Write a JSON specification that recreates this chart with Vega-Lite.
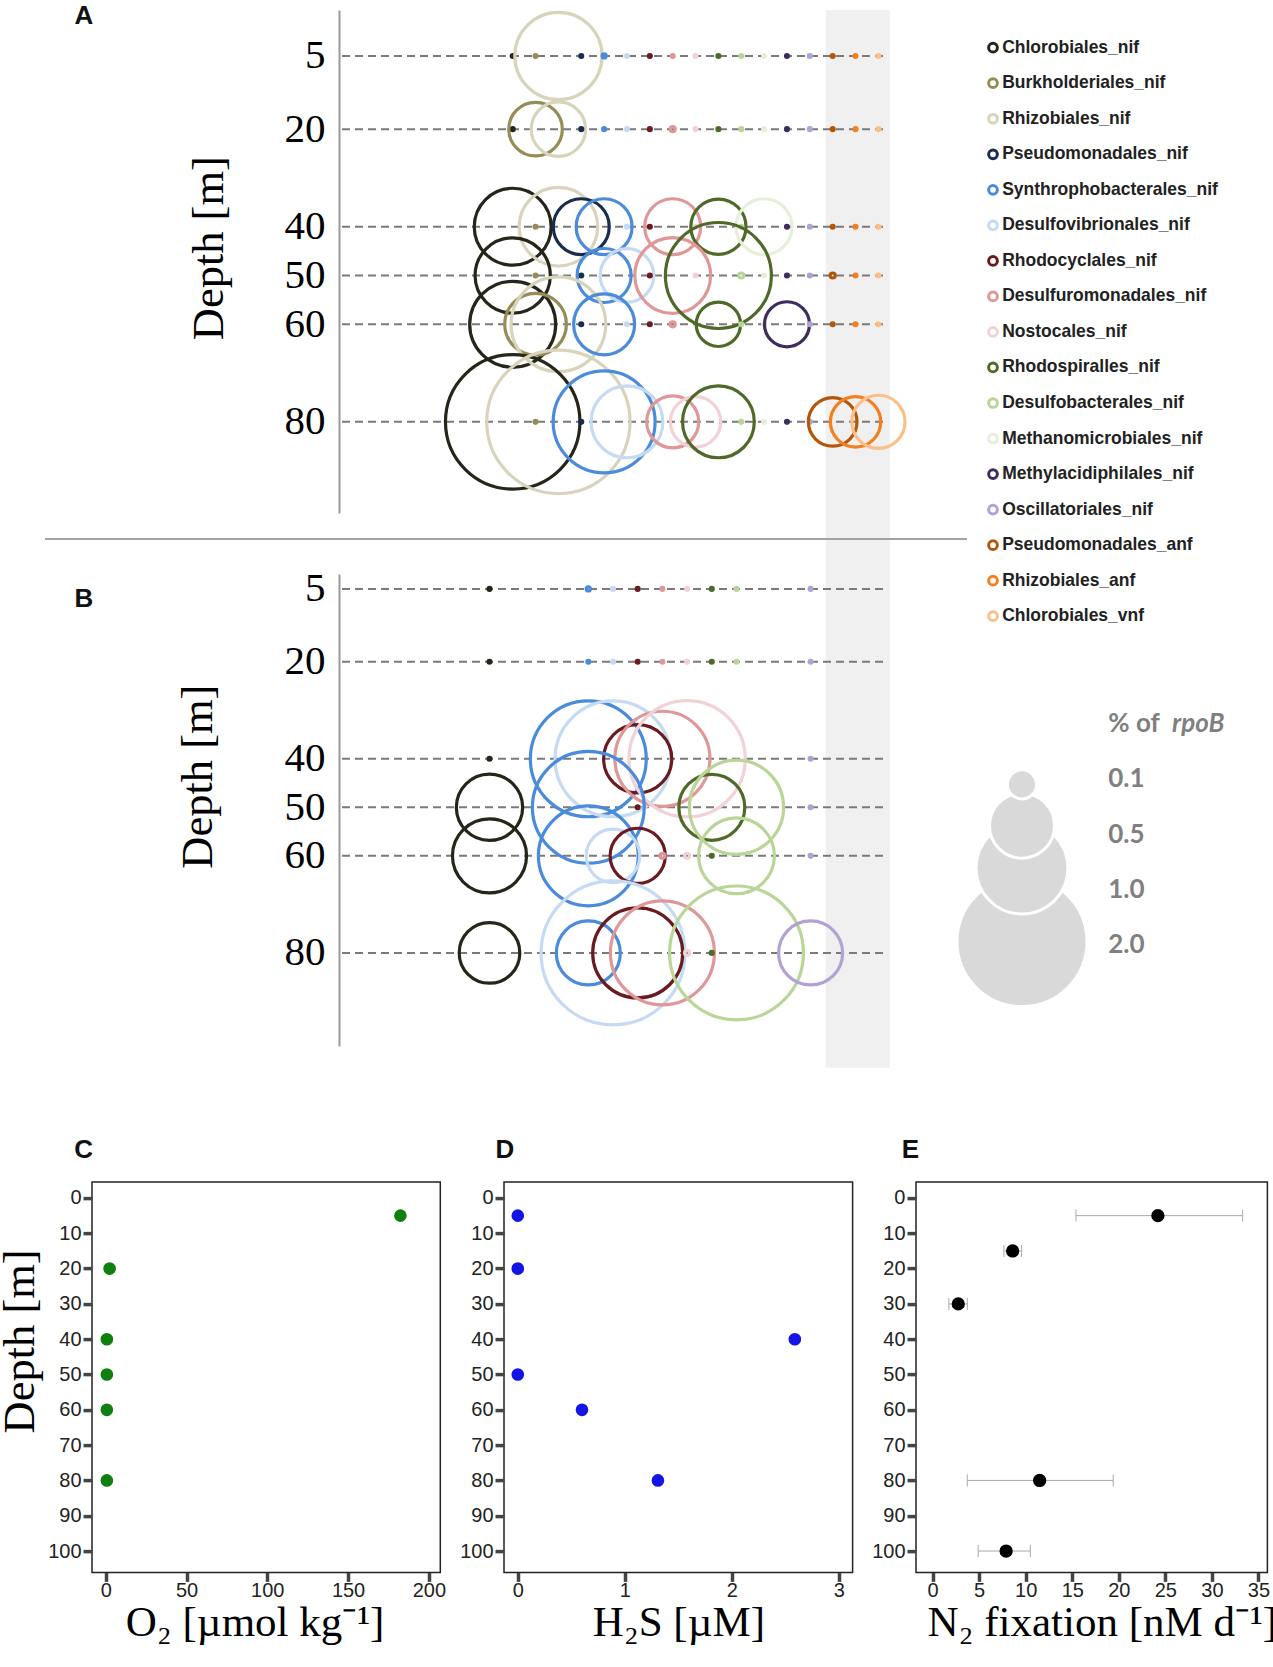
{
"$schema": "https://vega.github.io/schema/vega-lite/v6.json",
"background": "white",
"padding": {"left": -4, "top": 2.1, "right": 0, "bottom": 0},
"config": {"view": {"stroke": null}, "axis": {"grid": false}},
"datasets": {
"A": [
{"d":5,"t":"Chlorobiales_nif","p":0.001},{"d":5,"t":"Burkholderiales_nif","p":0.001},{"d":5,"t":"Rhizobiales_nif","p":0.9},{"d":5,"t":"Pseudomonadales_nif","p":0.001},{"d":5,"t":"Synthrophobacterales_nif","p":0.002},{"d":5,"t":"Desulfovibrionales_nif","p":0.001},{"d":5,"t":"Rhodocyclales_nif","p":0.001},{"d":5,"t":"Desulfuromonadales_nif","p":0.001},{"d":5,"t":"Nostocales_nif","p":0.001},{"d":5,"t":"Rhodospiralles_nif","p":0.001},{"d":5,"t":"Desulfobacterales_nif","p":0.001},{"d":5,"t":"Methanomicrobiales_nif","p":0.001},{"d":5,"t":"Methylacidiphilales_nif","p":0.001},{"d":5,"t":"Oscillatoriales_nif","p":0.001},{"d":5,"t":"Pseudomonadales_anf","p":0.001},{"d":5,"t":"Rhizobiales_anf","p":0.001},{"d":5,"t":"Chlorobiales_vnf","p":0.001},
{"d":20,"t":"Chlorobiales_nif","p":0.001},{"d":20,"t":"Burkholderiales_nif","p":0.34},{"d":20,"t":"Rhizobiales_nif","p":0.35},{"d":20,"t":"Pseudomonadales_nif","p":0.001},{"d":20,"t":"Synthrophobacterales_nif","p":0.001},{"d":20,"t":"Desulfovibrionales_nif","p":0.001},{"d":20,"t":"Rhodocyclales_nif","p":0.001},{"d":20,"t":"Desulfuromonadales_nif","p":0.003},{"d":20,"t":"Nostocales_nif","p":0.001},{"d":20,"t":"Rhodospiralles_nif","p":0.001},{"d":20,"t":"Desulfobacterales_nif","p":0.001},{"d":20,"t":"Methanomicrobiales_nif","p":0.001},{"d":20,"t":"Methylacidiphilales_nif","p":0.001},{"d":20,"t":"Oscillatoriales_nif","p":0.001},{"d":20,"t":"Pseudomonadales_anf","p":0.001},{"d":20,"t":"Rhizobiales_anf","p":0.001},{"d":20,"t":"Chlorobiales_vnf","p":0.001},
{"d":40,"t":"Chlorobiales_nif","p":0.7},{"d":40,"t":"Burkholderiales_nif","p":0.001},{"d":40,"t":"Rhizobiales_nif","p":0.73},{"d":40,"t":"Pseudomonadales_nif","p":0.37},{"d":40,"t":"Synthrophobacterales_nif","p":0.37},{"d":40,"t":"Desulfovibrionales_nif","p":0.001},{"d":40,"t":"Rhodocyclales_nif","p":0.001},{"d":40,"t":"Desulfuromonadales_nif","p":0.37},{"d":40,"t":"Nostocales_nif","p":0.001},{"d":40,"t":"Rhodospiralles_nif","p":0.36},{"d":40,"t":"Desulfobacterales_nif","p":0.001},{"d":40,"t":"Methanomicrobiales_nif","p":0.37},{"d":40,"t":"Methylacidiphilales_nif","p":0.001},{"d":40,"t":"Oscillatoriales_nif","p":0.001},{"d":40,"t":"Pseudomonadales_anf","p":0.001},{"d":40,"t":"Rhizobiales_anf","p":0.001},{"d":40,"t":"Chlorobiales_vnf","p":0.001},
{"d":50,"t":"Chlorobiales_nif","p":0.67},{"d":50,"t":"Burkholderiales_nif","p":0.001},{"d":50,"t":"Pseudomonadales_nif","p":0.001},{"d":50,"t":"Synthrophobacterales_nif","p":0.345},{"d":50,"t":"Desulfovibrionales_nif","p":0.34},{"d":50,"t":"Rhodocyclales_nif","p":0.001},{"d":50,"t":"Desulfuromonadales_nif","p":0.68},{"d":50,"t":"Nostocales_nif","p":0.001},{"d":50,"t":"Rhodospiralles_nif","p":1.33},{"d":50,"t":"Desulfobacterales_nif","p":0.003},{"d":50,"t":"Methanomicrobiales_nif","p":0.001},{"d":50,"t":"Methylacidiphilales_nif","p":0.001},{"d":50,"t":"Oscillatoriales_nif","p":0.001},{"d":50,"t":"Pseudomonadales_anf","p":0.003},{"d":50,"t":"Rhizobiales_anf","p":0.001},{"d":50,"t":"Chlorobiales_vnf","p":0.001},
{"d":60,"t":"Chlorobiales_nif","p":0.875},{"d":60,"t":"Burkholderiales_nif","p":0.45},{"d":60,"t":"Rhizobiales_nif","p":1.06},{"d":60,"t":"Pseudomonadales_nif","p":0.001},{"d":60,"t":"Synthrophobacterales_nif","p":0.44},{"d":60,"t":"Desulfovibrionales_nif","p":0.001},{"d":60,"t":"Rhodocyclales_nif","p":0.001},{"d":60,"t":"Desulfuromonadales_nif","p":0.003},{"d":60,"t":"Rhodospiralles_nif","p":0.233},{"d":60,"t":"Desulfobacterales_nif","p":0.001},{"d":60,"t":"Methanomicrobiales_nif","p":0.001},{"d":60,"t":"Methylacidiphilales_nif","p":0.24},{"d":60,"t":"Oscillatoriales_nif","p":0.001},{"d":60,"t":"Pseudomonadales_anf","p":0.001},{"d":60,"t":"Rhizobiales_anf","p":0.001},{"d":60,"t":"Chlorobiales_vnf","p":0.001},
{"d":80,"t":"Chlorobiales_nif","p":2.14},{"d":80,"t":"Burkholderiales_nif","p":0.001},{"d":80,"t":"Rhizobiales_nif","p":2.43},{"d":80,"t":"Pseudomonadales_nif","p":0.001},{"d":80,"t":"Synthrophobacterales_nif","p":1.23},{"d":80,"t":"Desulfovibrionales_nif","p":0.61},{"d":80,"t":"Desulfuromonadales_nif","p":0.32},{"d":80,"t":"Nostocales_nif","p":0.3},{"d":80,"t":"Rhodospiralles_nif","p":0.61},{"d":80,"t":"Desulfobacterales_nif","p":0.001},{"d":80,"t":"Methanomicrobiales_nif","p":0.001},{"d":80,"t":"Methylacidiphilales_nif","p":0.001},{"d":80,"t":"Oscillatoriales_nif","p":0.001},{"d":80,"t":"Pseudomonadales_anf","p":0.28},{"d":80,"t":"Rhizobiales_anf","p":0.3},{"d":80,"t":"Chlorobiales_vnf","p":0.335}
],
"B": [
{"d":5,"t":"Chlorobiales_nif","p":0.001},{"d":5,"t":"Synthrophobacterales_nif","p":0.002},{"d":5,"t":"Desulfovibrionales_nif","p":0.001},{"d":5,"t":"Rhodocyclales_nif","p":0.001},{"d":5,"t":"Desulfuromonadales_nif","p":0.001},{"d":5,"t":"Nostocales_nif","p":0.001},{"d":5,"t":"Rhodospiralles_nif","p":0.001},{"d":5,"t":"Desulfobacterales_nif","p":0.001},{"d":5,"t":"Oscillatoriales_nif","p":0.001},
{"d":20,"t":"Chlorobiales_nif","p":0.001},{"d":20,"t":"Synthrophobacterales_nif","p":0.001},{"d":20,"t":"Desulfovibrionales_nif","p":0.001},{"d":20,"t":"Rhodocyclales_nif","p":0.001},{"d":20,"t":"Desulfuromonadales_nif","p":0.001},{"d":20,"t":"Nostocales_nif","p":0.001},{"d":20,"t":"Rhodospiralles_nif","p":0.001},{"d":20,"t":"Desulfobacterales_nif","p":0.001},{"d":20,"t":"Oscillatoriales_nif","p":0.001},
{"d":40,"t":"Chlorobiales_nif","p":0.001},{"d":40,"t":"Synthrophobacterales_nif","p":1.59},{"d":40,"t":"Desulfovibrionales_nif","p":1.59},{"d":40,"t":"Rhodocyclales_nif","p":0.55},{"d":40,"t":"Desulfuromonadales_nif","p":1.07},{"d":40,"t":"Nostocales_nif","p":1.6},{"d":40,"t":"Oscillatoriales_nif","p":0.001},
{"d":50,"t":"Chlorobiales_nif","p":0.52},{"d":50,"t":"Synthrophobacterales_nif","p":1.48},{"d":50,"t":"Rhodocyclales_nif","p":0.001},{"d":50,"t":"Rhodospiralles_nif","p":0.515},{"d":50,"t":"Desulfobacterales_nif","p":1.05},{"d":50,"t":"Oscillatoriales_nif","p":0.001},
{"d":60,"t":"Chlorobiales_nif","p":0.65},{"d":60,"t":"Synthrophobacterales_nif","p":1.18},{"d":60,"t":"Desulfovibrionales_nif","p":0.34},{"d":60,"t":"Rhodocyclales_nif","p":0.36},{"d":60,"t":"Desulfuromonadales_nif","p":0.003},{"d":60,"t":"Nostocales_nif","p":0.003},{"d":60,"t":"Rhodospiralles_nif","p":0.001},{"d":60,"t":"Desulfobacterales_nif","p":0.68},{"d":60,"t":"Oscillatoriales_nif","p":0.001},
{"d":80,"t":"Chlorobiales_nif","p":0.435},{"d":80,"t":"Synthrophobacterales_nif","p":0.485},{"d":80,"t":"Desulfovibrionales_nif","p":2.45},{"d":80,"t":"Rhodocyclales_nif","p":0.96},{"d":80,"t":"Desulfuromonadales_nif","p":1.28},{"d":80,"t":"Nostocales_nif","p":0.003},{"d":80,"t":"Rhodospiralles_nif","p":0.001},{"d":80,"t":"Desulfobacterales_nif","p":2.12},{"d":80,"t":"Oscillatoriales_nif","p":0.485}
],
"depths": [{"d":5},{"d":20},{"d":40},{"d":50},{"d":60},{"d":80}],
"taxa": [{"t":"Chlorobiales_nif"},{"t":"Burkholderiales_nif"},{"t":"Rhizobiales_nif"},{"t":"Pseudomonadales_nif"},{"t":"Synthrophobacterales_nif"},{"t":"Desulfovibrionales_nif"},{"t":"Rhodocyclales_nif"},{"t":"Desulfuromonadales_nif"},{"t":"Nostocales_nif"},{"t":"Rhodospiralles_nif"},{"t":"Desulfobacterales_nif"},{"t":"Methanomicrobiales_nif"},{"t":"Methylacidiphilales_nif"},{"t":"Oscillatoriales_nif"},{"t":"Pseudomonadales_anf"},{"t":"Rhizobiales_anf"},{"t":"Chlorobiales_vnf"}]
},
"concat": [
{
"concat": [
{"width": 294, "height": 503, "data": {"values": []}, "mark": "point"},
{
"width": 544, "height": 503,
"title": {"text": "A", "anchor": "start", "frame": "group", "orient": "top", "offset": 0, "dx": -264.4, "dy": 44.1, "baseline": "alphabetic", "font": "Liberation Sans", "fontSize": 26, "fontWeight": "bold", "color": "#111111"},
"layer": [
{"data": {"values": [{}]}, "mark": {"type": "rect", "color": "#f0f0f0", "xOffset": -7, "x2Offset": 11.4},
"encoding": {
"x": {"datum": "Pseudomonadales_anf", "type": "nominal", "scale": {"type": "point", "domain": ["Chlorobiales_nif","Burkholderiales_nif","Rhizobiales_nif","Pseudomonadales_nif","Synthrophobacterales_nif","Desulfovibrionales_nif","Rhodocyclales_nif","Desulfuromonadales_nif","Nostocales_nif","Rhodospiralles_nif","Desulfobacterales_nif","Methanomicrobiales_nif","Methylacidiphilales_nif","Oscillatoriales_nif","Pseudomonadales_anf","Rhizobiales_anf","Chlorobiales_vnf"], "range": [173.7, 539.4], "padding": 0}, "axis": null},
"x2": {"datum": "Chlorobiales_vnf"},
"y": {"datum": -4.4, "type": "quantitative", "scale": {"domain": [-4.4, 98.7], "reverse": true, "nice": false, "zero": false},
"axis": {"values": [5,20,40,50,60,80], "title": "Depth [m]", "domainColor": "#9a9a9a", "domainWidth": 2, "ticks": false, "tickSize": 0, "labelFont": "Liberation Serif", "labelFontSize": 41, "labelColor": "#000000", "labelPadding": 14, "labelOverlap": false, "labelFlush": false, "titleFont": "Liberation Serif", "titleFontSize": 44.5, "titleFontWeight": "normal", "titleColor": "#000000", "titleBaseline": "bottom", "titleX": -107.1, "titleY": 237.6}},
"y2": {"datum": 212.4}
}},
{"data": {"name": "depths"}, "mark": {"type": "rule", "color": "#7a7a7a", "strokeDash": [8, 5], "strokeWidth": 2},
"encoding": {"y": {"field": "d", "type": "quantitative"}}},
{"data": {"name": "A"}, "mark": {"type": "point", "filled": false, "strokeWidth": 3.2, "opacity": 1},
"encoding": {
"x": {"field": "t", "type": "nominal", "scale": {"type": "point", "domain": ["Chlorobiales_nif","Burkholderiales_nif","Rhizobiales_nif","Pseudomonadales_nif","Synthrophobacterales_nif","Desulfovibrionales_nif","Rhodocyclales_nif","Desulfuromonadales_nif","Nostocales_nif","Rhodospiralles_nif","Desulfobacterales_nif","Methanomicrobiales_nif","Methylacidiphilales_nif","Oscillatoriales_nif","Pseudomonadales_anf","Rhizobiales_anf","Chlorobiales_vnf"], "range": [173.7, 539.4], "padding": 0}, "axis": null},
"y": {"field": "d", "type": "quantitative"},
"color": {"field": "t", "type": "nominal", "legend": null, "scale": {"domain": ["Chlorobiales_nif","Burkholderiales_nif","Rhizobiales_nif","Pseudomonadales_nif","Synthrophobacterales_nif","Desulfovibrionales_nif","Rhodocyclales_nif","Desulfuromonadales_nif","Nostocales_nif","Rhodospiralles_nif","Desulfobacterales_nif","Methanomicrobiales_nif","Methylacidiphilales_nif","Oscillatoriales_nif","Pseudomonadales_anf","Rhizobiales_anf","Chlorobiales_vnf"], "range": ["#25251a","#968c57","#d8d4bc","#182c4c","#4a8bdb","#c5daf3","#6a1b1f","#df9797","#f2d2d6","#4f6a28","#bad598","#e6efda","#3e2d5c","#b2a2d4","#b4560a","#f28021","#fbbf88"]}},
"size": {"field": "p", "type": "quantitative", "legend": null, "scale": {"type": "linear", "domain": [0, 2], "range": [0, 16900], "zero": true}}
}}
]
},
{"width": 109.5, "height": 503, "data": {"values": []}, "mark": "point"},
{
"width": 1, "height": 503,
"data": {"name": "taxa"},
"layer": [
{"mark": {"type": "point", "filled": false, "strokeWidth": 3, "size": 76, "opacity": 1},
"encoding": {
"x": {"datum": 0, "type": "quantitative", "scale": {"domain": [0, 1]}, "axis": null},
"y": {"field": "t", "type": "nominal", "scale": {"type": "point", "domain": ["Chlorobiales_nif","Burkholderiales_nif","Rhizobiales_nif","Pseudomonadales_nif","Synthrophobacterales_nif","Desulfovibrionales_nif","Rhodocyclales_nif","Desulfuromonadales_nif","Nostocales_nif","Rhodospiralles_nif","Desulfobacterales_nif","Methanomicrobiales_nif","Methylacidiphilales_nif","Oscillatoriales_nif","Pseudomonadales_anf","Rhizobiales_anf","Chlorobiales_vnf"], "range": [37.6, 606.1], "padding": 0}, "axis": null},
"color": {"field": "t", "type": "nominal", "legend": null, "scale": {"domain": ["Chlorobiales_nif","Burkholderiales_nif","Rhizobiales_nif","Pseudomonadales_nif","Synthrophobacterales_nif","Desulfovibrionales_nif","Rhodocyclales_nif","Desulfuromonadales_nif","Nostocales_nif","Rhodospiralles_nif","Desulfobacterales_nif","Methanomicrobiales_nif","Methylacidiphilales_nif","Oscillatoriales_nif","Pseudomonadales_anf","Rhizobiales_anf","Chlorobiales_vnf"], "range": ["#25251a","#968c57","#d8d4bc","#182c4c","#4a8bdb","#c5daf3","#6a1b1f","#df9797","#f2d2d6","#4f6a28","#bad598","#e6efda","#3e2d5c","#b2a2d4","#b4560a","#f28021","#fbbf88"]}}
}},
{"mark": {"type": "text", "align": "left", "baseline": "middle", "dx": 9.2, "font": "Liberation Sans", "fontSize": 17.5, "fontWeight": "bold", "color": "#222222"},
"encoding": {
"x": {"datum": 0, "type": "quantitative"},
"y": {"field": "t", "type": "nominal"},
"text": {"field": "t"}
}}
]
}
],
"columns": 4, "spacing": 0, "align": "none", "bounds": "flush"
},
{"width": 1, "height": 528.7, "data": {"values": []}, "mark": "point"},
{"width": 922, "height": 12.6, "data": {"values": [{}]}, "mark": {"type": "rule", "color": "#a3a3a3", "strokeWidth": 2},
"encoding": {"y": {"datum": 1, "type": "quantitative", "scale": {"domain": [0, 1]}, "axis": null}}},
{"width": 1, "height": 21.5, "data": {"values": []}, "mark": "point"},
{
"concat": [
{"width": 294, "height": 472, "data": {"values": []}, "mark": "point"},
{
"width": 544, "height": 472,
"title": {"text": "B", "anchor": "start", "frame": "group", "orient": "top", "offset": 0, "dx": -264.4, "dy": 65.4, "baseline": "alphabetic", "font": "Liberation Sans", "fontSize": 26, "fontWeight": "bold", "color": "#111111"},
"layer": [
{"data": {"name": "depths"}, "mark": {"type": "rule", "color": "#7a7a7a", "strokeDash": [8, 5], "strokeWidth": 2},
"encoding": {"y": {"field": "d", "type": "quantitative", "scale": {"domain": [1.95, 99.2], "reverse": true, "nice": false, "zero": false},
"axis": {"values": [5,20,40,50,60,80], "title": "Depth [m]", "domainColor": "#9a9a9a", "domainWidth": 2, "ticks": false, "tickSize": 0, "labelFont": "Liberation Serif", "labelFontSize": 41, "labelColor": "#000000", "labelPadding": 14, "labelOverlap": false, "labelFlush": false, "titleFont": "Liberation Serif", "titleFontSize": 44.5, "titleFontWeight": "normal", "titleColor": "#000000", "titleBaseline": "bottom", "titleX": -118.3, "titleY": 202}}}},
{"data": {"name": "B"}, "mark": {"type": "point", "filled": false, "strokeWidth": 3.2, "opacity": 1},
"encoding": {
"x": {"field": "t", "type": "nominal", "scale": {"type": "point", "domain": ["Chlorobiales_nif","Burkholderiales_nif","Rhizobiales_nif","Pseudomonadales_nif","Synthrophobacterales_nif","Desulfovibrionales_nif","Rhodocyclales_nif","Desulfuromonadales_nif","Nostocales_nif","Rhodospiralles_nif","Desulfobacterales_nif","Methanomicrobiales_nif","Methylacidiphilales_nif","Oscillatoriales_nif"], "range": [150.5, 471.6], "padding": 0}, "axis": null},
"y": {"field": "d", "type": "quantitative"},
"color": {"field": "t", "type": "nominal", "legend": null, "scale": {"domain": ["Chlorobiales_nif","Burkholderiales_nif","Rhizobiales_nif","Pseudomonadales_nif","Synthrophobacterales_nif","Desulfovibrionales_nif","Rhodocyclales_nif","Desulfuromonadales_nif","Nostocales_nif","Rhodospiralles_nif","Desulfobacterales_nif","Methanomicrobiales_nif","Methylacidiphilales_nif","Oscillatoriales_nif","Pseudomonadales_anf","Rhizobiales_anf","Chlorobiales_vnf"], "range": ["#25251a","#968c57","#d8d4bc","#182c4c","#4a8bdb","#c5daf3","#6a1b1f","#df9797","#f2d2d6","#4f6a28","#bad598","#e6efda","#3e2d5c","#b2a2d4","#b4560a","#f28021","#fbbf88"]}},
"size": {"field": "p", "type": "quantitative", "legend": null, "scale": {"type": "linear", "domain": [0, 2], "range": [0, 16900], "zero": true}}
}}
]
},
{"width": 139, "height": 472, "data": {"values": []}, "mark": "point"},
{
"width": 1, "height": 472,
"layer": [
{"data": {"values": [{"v": 2.0}, {"v": 1.0}, {"v": 0.5}, {"v": 0.1}]},
"mark": {"type": "point", "filled": true, "fill": "#d9d9d9", "stroke": "#ffffff", "strokeWidth": 3, "opacity": 1},
"encoding": {
"x": {"datum": 0, "type": "quantitative", "scale": {"domain": [0, 1]}, "axis": null},
"y": {"field": "v", "type": "quantitative", "scale": {"type": "pow", "exponent": 0.8, "domain": [0.1, 2.0], "range": [210.3, 367.5], "nice": false, "zero": false}, "axis": null},
"size": {"field": "v", "type": "quantitative", "legend": null, "scale": {"type": "linear", "domain": [0, 2], "range": [0, 16900], "zero": true}}
}},
{"data": {"values": [{"r": "0.1"}, {"r": "0.5"}, {"r": "1.0"}, {"r": "2.0"}]},
"mark": {"type": "text", "align": "left", "baseline": "middle", "dx": 86.3, "font": "Lato", "fontSize": 26, "fontWeight": "bold", "color": "#808080"},
"encoding": {
"x": {"datum": 0, "type": "quantitative"},
"y": {"field": "r", "type": "nominal", "scale": {"type": "point", "domain": ["title", "0.1", "0.5", "1.0", "2.0"], "range": [150.2, 370.9], "padding": 0}, "axis": null},
"text": {"field": "r"}
}},
{"data": {"values": [{"r": "title", "s": "% of"}]},
"mark": {"type": "text", "align": "left", "baseline": "middle", "dx": 86.3, "font": "Lato", "fontSize": 26, "fontWeight": "bold", "color": "#808080"},
"encoding": {
"x": {"datum": 0, "type": "quantitative"},
"y": {"field": "r", "type": "nominal", "scale": {"type": "point", "domain": ["title", "0.1", "0.5", "1.0", "2.0"], "range": [150.2, 370.9], "padding": 0}, "axis": null},
"text": {"field": "s"}
}},
{"data": {"values": [{"r": "title", "s": "rpoB"}]},
"mark": {"type": "text", "align": "left", "baseline": "middle", "dx": 150, "font": "Lato", "fontSize": 26, "fontWeight": "bold", "fontStyle": "italic", "color": "#808080"},
"encoding": {
"x": {"datum": 0, "type": "quantitative"},
"y": {"field": "r", "type": "nominal", "scale": {"type": "point", "domain": ["title", "0.1", "0.5", "1.0", "2.0"], "range": [150.2, 370.9], "padding": 0}, "axis": null},
"text": {"field": "s"}
}}
],
"resolve": {"scale": {"y": "independent"}}
}
],
"columns": 4, "spacing": 0, "align": "none", "bounds": "flush"
},
{"width": 1, "height": 608, "data": {"values": []}, "mark": "point"},
{
"concat": [
{"width": 46.7, "height": 390.3, "data": {"values": []}, "mark": "point"},
{
"width": 348.3, "height": 390.3,
"view": {"stroke": "#222222", "strokeWidth": 1.5},
"title": {"text": "C", "anchor": "start", "frame": "group", "orient": "top", "offset": 0, "dx": -17.7, "dy": 2.3, "baseline": "alphabetic", "font": "Liberation Sans", "fontSize": 26, "fontWeight": "bold", "color": "#111111"},
"data": {"values": [{"d":5,"o2":182.4},{"d":20,"o2":2.4},{"d":40,"o2":0.7},{"d":50,"o2":0.7},{"d":60,"o2":0.7},{"d":80,"o2":0.7}]},
"mark": {"type": "point", "filled": true, "size": 160, "color": "#0f7f0f", "opacity": 1},
"encoding": {
"x": {"field": "o2", "type": "quantitative", "scale": {"domain": [-8.5, 207.1], "nice": false, "zero": false},
"axis": {"values": [0,50,100,150,200], "title": "O₂ [µmol kg⁻¹]", "domain": false, "tickColor": "#444444", "tickWidth": 3.5, "tickSize": 9, "labelFont": "Liberation Sans", "labelFontSize": 20, "labelColor": "#222222", "labelPadding": -1, "labelFlush": false, "labelOverlap": false, "titleFont": "Liberation Serif", "titleFontSize": 43, "titleFontWeight": "normal", "titleColor": "#000000", "titleBaseline": "alphabetic", "titleY": 63, "titleX": 162.6}},
"y": {"field": "d", "type": "quantitative", "scale": {"domain": [-4.5, 106.05], "reverse": true, "nice": false, "zero": false},
"axis": {"values": [0,10,20,30,40,50,60,70,80,90,100], "title": "Depth [m]", "domain": false, "tickColor": "#444444", "tickWidth": 3.5, "tickSize": 9, "labelFont": "Liberation Sans", "labelFontSize": 20, "labelColor": "#222222", "labelPadding": 2, "labelFlush": false, "labelOverlap": false, "titleFont": "Liberation Serif", "titleFontSize": 44.5, "titleFontWeight": "normal", "titleColor": "#000000", "titleBaseline": "bottom", "titleX": -49.8, "titleY": 158.8}}
}
},
{"width": 62.9, "height": 390.3, "data": {"values": []}, "mark": "point"},
{
"width": 348.6, "height": 390.3,
"view": {"stroke": "#222222", "strokeWidth": 1.5},
"title": {"text": "D", "anchor": "start", "frame": "group", "orient": "top", "offset": 0, "dx": -8.6, "dy": 2.3, "baseline": "alphabetic", "font": "Liberation Sans", "fontSize": 26, "fontWeight": "bold", "color": "#111111"},
"data": {"values": [{"d":5,"h2s":0},{"d":20,"h2s":0},{"d":40,"h2s":2.59},{"d":50,"h2s":0},{"d":60,"h2s":0.6},{"d":80,"h2s":1.31}]},
"mark": {"type": "point", "filled": true, "size": 160, "color": "#1414e6", "opacity": 1},
"encoding": {
"x": {"field": "h2s", "type": "quantitative", "scale": {"domain": [-0.129, 3.13], "nice": false, "zero": false},
"axis": {"values": [0,1,2,3], "title": "H₂S [µM]", "domain": false, "tickColor": "#444444", "tickWidth": 3.5, "tickSize": 9, "labelFont": "Liberation Sans", "labelFontSize": 20, "labelColor": "#222222", "labelPadding": -1, "labelFlush": false, "labelOverlap": false, "titleFont": "Liberation Serif", "titleFontSize": 43, "titleFontWeight": "normal", "titleColor": "#000000", "titleBaseline": "alphabetic", "titleY": 63}},
"y": {"field": "d", "type": "quantitative", "scale": {"domain": [-4.5, 106.05], "reverse": true, "nice": false, "zero": false},
"axis": {"values": [0,10,20,30,40,50,60,70,80,90,100], "title": null, "domain": false, "tickColor": "#444444", "tickWidth": 3.5, "tickSize": 9, "labelFont": "Liberation Sans", "labelFontSize": 20, "labelColor": "#222222", "labelPadding": 2, "labelFlush": false, "labelOverlap": false}}
}
},
{"width": 62.7, "height": 390.3, "data": {"values": []}, "mark": "point"},
{
"width": 351.4, "height": 390.3,
"view": {"stroke": "#222222", "strokeWidth": 1.5},
"title": {"text": "E", "anchor": "start", "frame": "group", "orient": "top", "offset": 0, "dx": -14.3, "dy": 2.3, "baseline": "alphabetic", "font": "Liberation Sans", "fontSize": 26, "fontWeight": "bold", "color": "#111111"},
"data": {"values": [{"d":5,"n2":24.2,"lo":15.4,"hi":33.3},{"d":15,"n2":8.6,"lo":7.66,"hi":9.56},{"d":30,"n2":2.76,"lo":1.75,"hi":3.73},{"d":80,"n2":11.5,"lo":3.73,"hi":19.4},{"d":100,"n2":7.9,"lo":4.9,"hi":10.5}]},
"encoding": {
"y": {"field": "d", "type": "quantitative", "scale": {"domain": [-4.5, 106.05], "reverse": true, "nice": false, "zero": false},
"axis": {"values": [0,10,20,30,40,50,60,70,80,90,100], "title": null, "domain": false, "tickColor": "#444444", "tickWidth": 3.5, "tickSize": 9, "labelFont": "Liberation Sans", "labelFontSize": 20, "labelColor": "#222222", "labelPadding": 2, "labelFlush": false, "labelOverlap": false}}
},
"layer": [
{"mark": {"type": "rule", "color": "#aaaaaa", "strokeWidth": 1},
"encoding": {
"x": {"field": "lo", "type": "quantitative", "scale": {"domain": [-1.78, 35.96], "nice": false, "zero": false},
"axis": {"values": [0,5,10,15,20,25,30,35], "title": "N₂ fixation [nM d⁻¹]", "domain": false, "tickColor": "#444444", "tickWidth": 3.5, "tickSize": 9, "labelFont": "Liberation Sans", "labelFontSize": 20, "labelColor": "#222222", "labelPadding": -1, "labelFlush": false, "labelOverlap": false, "titleFont": "Liberation Serif", "titleFontSize": 43, "titleFontWeight": "normal", "titleColor": "#000000", "titleBaseline": "alphabetic", "titleY": 63, "titleX": 185.8}},
"x2": {"field": "hi"}
}},
{"mark": {"type": "rule", "color": "#aaaaaa", "strokeWidth": 1, "yOffset": -6, "y2Offset": 6},
"encoding": {"x": {"field": "lo", "type": "quantitative"}, "y2": {"field": "d"}}},
{"mark": {"type": "rule", "color": "#aaaaaa", "strokeWidth": 1, "yOffset": -6, "y2Offset": 6},
"encoding": {"x": {"field": "hi", "type": "quantitative"}, "y2": {"field": "d"}}},
{"mark": {"type": "point", "filled": true, "size": 177, "color": "#000000", "opacity": 1},
"encoding": {"x": {"field": "n2", "type": "quantitative"}}}
]
}
],
"columns": 6, "spacing": 0, "align": "none", "bounds": "flush"
}
],
"columns": 1, "spacing": 0, "align": "none", "bounds": "flush"
}
